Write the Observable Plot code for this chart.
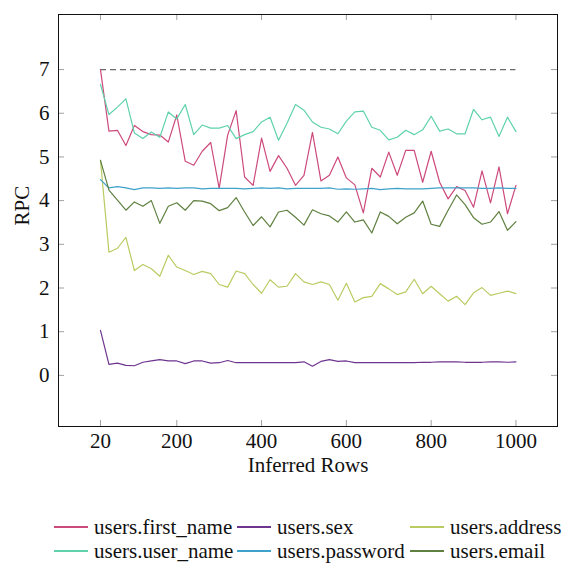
<!DOCTYPE html>
<html>
<head>
<meta charset="utf-8">
<script src="https://cdn.jsdelivr.net/npm/d3@7"></script>
<script src="https://cdn.jsdelivr.net/npm/@observablehq/plot@0.6"></script>
<style>
  html, body { margin: 0; padding: 0; background: #fff; }
  #wrap { position: relative; width: 562px; height: 564px; overflow: hidden; font-family: "Liberation Serif", "Times New Roman", Times, serif; }
  #chart { position: absolute; left: 0; top: 0; }
  #chart svg text { font-family: "Liberation Serif", "Times New Roman", Times, serif; }
  .leg { position: absolute; display: flex; align-items: center; font-family: "Liberation Serif", "Times New Roman", Times, serif; font-size: 21px; color: #111; white-space: nowrap; }
  .leg .sw { display: inline-block; width: 34px; height: 1.4px; margin-right: 6px; }
</style>
</head>
<body>
<div id="wrap">
  <div id="chart"></div>
  <div id="legend"></div>
</div>
<script>
// ---- data ----
const inferredRows = [20, 40, 60, 80, 100, 120, 140, 160, 180, 200,
  220, 240, 260, 280, 300, 320, 340, 360, 380, 400,
  420, 440, 460, 480, 500, 520, 540, 560, 580, 600,
  620, 640, 660, 680, 700, 720, 740, 760, 780, 800,
  820, 840, 860, 880, 900, 920, 940, 960, 980, 1000];

const firstName = [7.0, 5.59, 5.61, 5.26, 5.72, 5.58, 5.51, 5.50, 5.34, 5.96,
  4.90, 4.81, 5.13, 5.33, 4.28, 5.50, 6.06, 4.54, 4.35, 5.43,
  4.67, 5.03, 4.74, 4.35, 4.58, 5.56, 4.45, 4.58, 5.00, 4.52,
  4.36, 3.72, 4.74, 4.54, 5.11, 4.58, 5.15, 5.15, 4.42, 5.13,
  4.42, 4.04, 4.32, 4.23, 3.85, 4.68, 3.95, 4.77, 3.70, 4.35];

const userName = [6.66, 5.97, 6.14, 6.33, 5.55, 5.42, 5.57, 5.45, 6.03, 5.87,
  6.20, 5.51, 5.73, 5.66, 5.66, 5.72, 5.42, 5.51, 5.58, 5.80,
  5.91, 5.38, 5.77, 6.20, 6.07, 5.80, 5.68, 5.64, 5.53, 5.82,
  6.03, 6.05, 5.68, 5.61, 5.39, 5.45, 5.61, 5.51, 5.62, 5.93,
  5.59, 5.64, 5.53, 5.53, 6.09, 5.85, 5.91, 5.47, 5.91, 5.58];

const sex = [1.03, 0.25, 0.28, 0.23, 0.22, 0.30, 0.33, 0.36, 0.33, 0.33,
  0.27, 0.33, 0.33, 0.28, 0.29, 0.34, 0.29, 0.29, 0.29, 0.29,
  0.29, 0.29, 0.29, 0.29, 0.31, 0.21, 0.32, 0.36, 0.32, 0.33,
  0.29, 0.29, 0.29, 0.29, 0.29, 0.29, 0.29, 0.29, 0.30, 0.30,
  0.31, 0.31, 0.31, 0.30, 0.30, 0.30, 0.31, 0.31, 0.30, 0.31];

const password = [4.48, 4.29, 4.32, 4.29, 4.25, 4.29, 4.29, 4.28, 4.29, 4.28,
  4.29, 4.29, 4.27, 4.28, 4.28, 4.28, 4.28, 4.27, 4.28, 4.29,
  4.28, 4.29, 4.27, 4.28, 4.28, 4.28, 4.28, 4.29, 4.26, 4.27,
  4.26, 4.27, 4.28, 4.25, 4.27, 4.28, 4.27, 4.27, 4.27, 4.28,
  4.29, 4.29, 4.29, 4.29, 4.29, 4.28, 4.28, 4.29, 4.28, 4.28];

const address = [4.92, 2.82, 2.91, 3.16, 2.40, 2.54, 2.44, 2.27, 2.75, 2.48,
  2.40, 2.31, 2.38, 2.33, 2.08, 2.02, 2.39, 2.33, 2.08, 1.88,
  2.19, 2.02, 2.04, 2.33, 2.14, 2.08, 2.14, 2.08, 1.72, 2.11,
  1.68, 1.78, 1.81, 2.10, 1.98, 1.85, 1.91, 2.20, 1.87, 2.04,
  1.87, 1.70, 1.81, 1.62, 1.89, 2.01, 1.83, 1.88, 1.93, 1.87];

const email = [4.92, 4.24, 4.01, 3.78, 3.97, 3.87, 4.00, 3.48, 3.87, 3.95,
  3.78, 4.00, 3.99, 3.93, 3.77, 3.84, 4.07, 3.74, 3.43, 3.63,
  3.40, 3.74, 3.78, 3.62, 3.44, 3.79, 3.70, 3.65, 3.51, 3.74,
  3.51, 3.56, 3.26, 3.74, 3.64, 3.47, 3.62, 3.72, 3.99, 3.46,
  3.41, 3.78, 4.13, 3.91, 3.61, 3.46, 3.51, 3.75, 3.32, 3.52];

const seriesNames = ["users.first_name", "users.sex", "users.address",
  "users.user_name", "users.password", "users.email"];
const seriesValues = [firstName, sex, address, userName, password, email];
const seriesColors = ["#cc4a7c", "#6e3590", "#b9cc62", "#5fd2ab", "#3fa2cb", "#5f8040"];

const upperBound = 7;
const xTicks = [20, 200, 400, 600, 800, 1000];
const yTicks = [0, 1, 2, 3, 4, 5, 6, 7];

// ---- build table ----
const table = seriesNames.flatMap((name, k) =>
  inferredRows.map((r, i) => ({ rows: r, rpc: seriesValues[k][i], series: name })));

const W = 562, H = 500;
const mL = 58, mR = 5, mT = 14, mB = 74;
const frameW = W - mL - mR, frameH = H - mT - mB;
const tickLen = 6;
const font = '"Liberation Serif", "Times New Roman", Times, serif';

const chart = Plot.plot({
  width: W,
  height: H,
  marginLeft: mL,
  marginRight: mR,
  marginTop: mT,
  marginBottom: mB,
  style: { fontFamily: font, fontSize: "21px", color: "#111", background: "#fff" },
  x: { domain: [-79, 1098], label: null },
  y: { domain: [-1.17, 8.26], label: null },
  color: { domain: seriesNames, range: seriesColors },
  marks: [
    // inside ticks (bottom, top, left, right)
    Plot.ruleX(xTicks, { stroke: "#888", strokeWidth: 0.8, insetTop: frameH - tickLen }),
    Plot.ruleX(xTicks, { stroke: "#888", strokeWidth: 0.8, insetBottom: frameH - tickLen }),
    Plot.ruleY(yTicks, { stroke: "#888", strokeWidth: 0.8, insetRight: frameW - tickLen }),
    Plot.ruleY(yTicks, { stroke: "#888", strokeWidth: 0.8, insetLeft: frameW - tickLen }),
    Plot.axisX({ ticks: xTicks, tickSize: 0, tickPadding: 7, tickFormat: d => String(d),
      fontSize: 21, fontFamily: font, label: null }),
    Plot.axisY({ ticks: yTicks, tickSize: 0, tickPadding: 9, tickFormat: d => String(d),
      fontSize: 21, fontFamily: font, label: null }),
    Plot.ruleY([upperBound], { x1: inferredRows[0], x2: inferredRows[inferredRows.length - 1],
      stroke: "#6a6a6a", strokeWidth: 1.3, strokeDasharray: "6,4" }),
    Plot.line(table, { x: "rows", y: "rpc", z: "series", stroke: "series", strokeWidth: 1.2 }),
    Plot.frame({ stroke: "#111", strokeWidth: 1 }),
    Plot.text(["Inferred Rows"], { frameAnchor: "bottom", dy: 45, fontSize: 21, fontFamily: font, fill: "#111" }),
    Plot.text(["RPC"], { frameAnchor: "left", dx: -36, dy: 5, rotate: -90, fontSize: 21, fontFamily: font, fill: "#111" })
  ]
});
document.getElementById("chart").appendChild(chart);

// ---- legend (HTML, below the SVG) ----
const legendCols = [54, 237, 410];
const legendRows = [527, 551];
const legend = document.getElementById("legend");
seriesNames.forEach((name, k) => {
  const col = k % 3, row = Math.floor(k / 3);
  const item = document.createElement("div");
  item.className = "leg";
  item.style.left = legendCols[col] + "px";
  item.style.top = (legendRows[row] - 12) + "px";
  item.style.height = "24px";
  const sw = document.createElement("span");
  sw.className = "sw";
  sw.style.background = seriesColors[k];
  const label = document.createElement("span");
  label.textContent = name;
  item.appendChild(sw);
  item.appendChild(label);
  legend.appendChild(item);
});
</script>
</body>
</html>
